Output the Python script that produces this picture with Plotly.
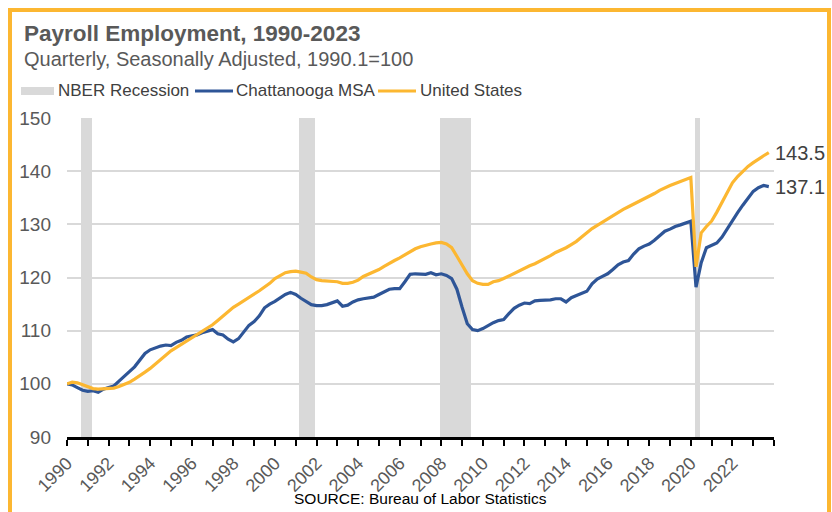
import plotly.graph_objects as go

# quarterly index, 1990.1 = 100
quarters = [1990 + i / 4 for i in range(136)]

chattanooga = [
    100.0, 99.8, 99.3, 98.8,
    98.6, 98.7, 98.4, 99.0,
    99.3, 99.6, 100.5, 101.5,
    102.3, 103.2, 104.4, 105.7,
    106.4, 106.8, 107.1, 107.3,
    107.2, 107.8, 108.2, 108.8,
    109.0, 109.2, 109.6, 109.9,
    110.2, 109.4, 109.2, 108.4,
    107.9, 108.5, 109.7, 111.0,
    111.7, 112.8, 114.3, 115.0,
    115.5, 116.2, 116.8, 117.2,
    116.8, 116.1, 115.5, 114.9,
    114.7, 114.7, 114.9, 115.3,
    115.6, 114.6, 114.8, 115.4,
    115.8, 116.0, 116.1, 116.3,
    116.8, 117.3, 117.8, 117.9,
    117.9, 119.2, 120.6, 120.7,
    120.6, 120.6, 120.9, 120.5,
    120.7, 120.4, 119.8, 117.8,
    114.4, 111.3, 110.2, 110.0,
    110.4, 111.0, 111.5, 111.9,
    112.1, 113.2, 114.2, 114.8,
    115.2, 115.1, 115.6, 115.7,
    115.7, 115.8, 116.0, 116.0,
    115.4, 116.2, 116.6, 117.0,
    117.4, 118.8, 119.7, 120.2,
    120.7, 121.5, 122.4, 122.9,
    123.2, 124.4, 125.4, 125.9,
    126.3, 127.0, 127.9, 128.7,
    129.1, 129.6, 129.9, 130.3,
    130.6, 118.2, 122.8, 125.6,
    126.1, 126.5, 127.6, 129.2,
    130.6, 132.2, 133.6, 135.0,
    136.2, 136.9, 137.3, 137.1,
]

united_states = [
    100.0, 100.3, 100.2, 99.8,
    99.4, 99.1, 99.0, 99.1,
    99.1, 99.2, 99.5, 99.9,
    100.3, 100.9, 101.5, 102.2,
    102.9, 103.7, 104.5, 105.4,
    106.2, 106.8, 107.4, 108.0,
    108.6, 109.2, 109.8, 110.4,
    111.1, 111.9, 112.7, 113.6,
    114.4, 115.0, 115.6, 116.2,
    116.8, 117.5, 118.2, 118.9,
    119.8, 120.4, 120.9, 121.1,
    121.2, 121.0, 120.8, 120.1,
    119.6, 119.4, 119.3, 119.3,
    119.2, 118.9, 118.9, 119.1,
    119.5, 120.2, 120.6, 121.0,
    121.5, 122.1, 122.7, 123.2,
    123.7, 124.3, 124.9, 125.4,
    125.8, 126.1, 126.3, 126.5,
    126.6, 126.3, 125.6, 124.0,
    122.3, 120.7, 119.4, 118.9,
    118.7, 118.7, 119.2, 119.4,
    119.8, 120.3, 120.7, 121.2,
    121.8, 122.2, 122.6, 123.1,
    123.5, 124.1, 124.7, 125.1,
    125.6, 126.2, 126.8, 127.6,
    128.4, 129.2, 129.8, 130.4,
    131.0, 131.6, 132.3, 132.8,
    133.3, 133.8, 134.3, 134.7,
    135.2, 135.8, 136.4, 136.9,
    137.3, 137.7, 138.1, 138.5,
    138.8, 122.0, 128.4, 129.6,
    130.6, 132.3, 134.1, 136.2,
    137.8, 139.0, 140.0, 140.9,
    141.6, 142.3, 142.9, 143.5,
]

recession_quarters = [1990.75, 1991.0,
                      2001.25, 2001.5, 2001.75,
                      2008.0, 2008.25, 2008.5, 2008.75, 2009.0, 2009.25,
                      2020.25]
recession_top = [150] * len(recession_quarters)

year_labels = list(range(1990, 2023, 2))

BLUE = "#2E5597"
ORANGE = "#FCB731"
GRAY = "#D9D9D9"
FONT = "Liberation Sans, Arial, sans-serif"

W, H = 832, 512
L, R, T, B = 67, 58, 118, 75
PW, PH = W - L - R, H - T - B


def px(x):
    return (x - L) / PW


def py(y):
    return (H - B - y) / PH


fig = go.Figure()
fig.add_trace(go.Bar(
    x=recession_quarters, y=recession_top, width=0.25, offset=-0.07,
    marker_color=GRAY, marker_line_width=0, showlegend=False, hoverinfo="skip",
))
fig.add_trace(go.Scatter(
    x=quarters, y=chattanooga, mode="lines", name="Chattanooga MSA",
    line=dict(color=BLUE, width=3.2), showlegend=False,
))
fig.add_trace(go.Scatter(
    x=quarters, y=united_states, mode="lines", name="United States",
    line=dict(color=ORANGE, width=3.2), showlegend=False,
))

fig.update_xaxes(
    range=[1990, 2024], tickmode="array", tickvals=year_labels,
    tickangle=-45, ticks="outside", ticklen=6, tickwidth=2, tickcolor="#000",
    minor=dict(tickmode="linear", tick0=1990, dtick=1, ticks="outside",
               ticklen=6, tickwidth=2, tickcolor="#000"),
    showline=True, linecolor="#000", linewidth=2.5, showgrid=False,
    automargin=False,
    tickfont=dict(size=18, color="#595959", family=FONT),
)
fig.update_yaxes(
    range=[90, 150], dtick=10, showgrid=True, gridcolor=GRAY, gridwidth=1.5,
    zeroline=False, showline=False, ticks="", ticklabelstandoff=15,
    automargin=False,
    tickfont=dict(size=19, color="#595959", family=FONT),
)

annotations = [
    dict(x=px(22), y=py(33), text="<b>Payroll Employment, 1990-2023</b>",
         font=dict(size=22.5, color="#595959")),
    dict(x=px(22), y=py(59), text="Quarterly, Seasonally Adjusted, 1990.1=100",
         font=dict(size=20, color="#595959")),
    dict(x=px(56), y=py(91), text="NBER Recession",
         font=dict(size=17, color="#404040")),
    dict(x=px(234), y=py(91), text="Chattanooga MSA",
         font=dict(size=17, color="#404040")),
    dict(x=px(418), y=py(91), text="United States",
         font=dict(size=17, color="#404040")),
    dict(x=px(420), y=py(499), text="SOURCE: Bureau of Labor Statistics",
         xanchor="center", font=dict(size=15.5, color="#000")),
]
for a in annotations:
    a.setdefault("xanchor", "left")
    fig.add_annotation(xref="paper", yref="paper", yanchor="middle",
                       showarrow=False, **a)

for series in (united_states, chattanooga):
    fig.add_annotation(x=quarters[-1], y=series[-1], text=f"{series[-1]:.1f}",
                       xref="x", yref="y", xanchor="left", yanchor="middle",
                       xshift=4, showarrow=False,
                       font=dict(size=20, color="#404040"))

shapes = [
    dict(type="rect", x0=px(21), x1=px(54), y0=py(87), y1=py(95),
         fillcolor=GRAY, line_width=0),
    dict(type="line", x0=px(195), x1=px(233), y0=py(91), y1=py(91),
         line=dict(color=BLUE, width=3.2)),
    dict(type="line", x0=px(378), x1=px(416), y0=py(91), y1=py(91),
         line=dict(color=ORANGE, width=3.2)),
    dict(type="rect", x0=px(10), x1=px(829), y0=py(10), y1=py(540),
         line=dict(color=ORANGE, width=4), fillcolor="rgba(0,0,0,0)"),
]
for s in shapes:
    fig.add_shape(xref="paper", yref="paper", layer="above", **s)

fig.update_layout(
    width=W, height=H, margin=dict(l=L, r=R, t=T, b=B, autoexpand=False),
    plot_bgcolor="white", paper_bgcolor="white",
    font=dict(family=FONT, color="#595959"),
    bargap=0, showlegend=False,
)

# the page body has an 8px default margin; drop it so the figure fills the window
fig.write_html("out.html", config={"displayModeBar": False},
               post_script="document.body.style.margin='0';"
                           "document.body.style.overflow='hidden';")
